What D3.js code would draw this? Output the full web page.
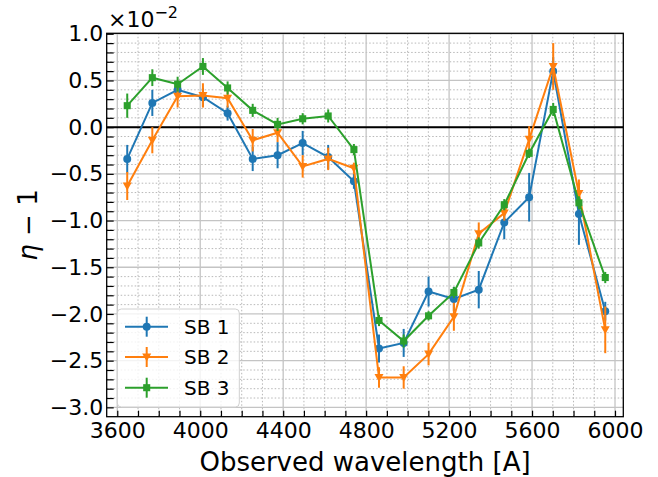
<!DOCTYPE html>
<html>
<head>
<meta charset="utf-8">
<script src="https://cdn.jsdelivr.net/npm/d3@7"></script>
<style>
  html, body { margin: 0; padding: 0; background: #fff; }
  svg { display: block; font-family: "DejaVu Sans", sans-serif; }
</style>
</head>
<body>
<svg id="chart" width="658" height="477"></svg>
<script>
// Binned observed wavelengths (Å)
const wavelengths = [3648, 3769, 3891, 4013, 4132, 4253, 4373, 4494, 4617, 4741,
                     4862, 4981, 5101, 5223, 5343, 5466, 5586, 5702, 5826, 5953];

// eta - 1, in units of 1e-2, with 1-sigma errors
const sb1 = [-0.34, 0.26, 0.40, 0.32, 0.15, -0.34, -0.30, -0.17, -0.32, -0.58,
             -2.37, -2.31, -1.76, -1.84, -1.74, -1.02, -0.75, 0.60, -0.93, -1.97];
const sb1Err = [0.15, 0.14, 0.08, 0.10, 0.08, 0.13, 0.14, 0.13, 0.13, 0.08,
                0.15, 0.15, 0.16, 0.13, 0.20, 0.18, 0.26, 0.15, 0.33, 0.10];

const sb2 = [-0.63, -0.14, 0.33, 0.34, 0.31, -0.14, -0.06, -0.42, -0.34, -0.44,
             -2.68, -2.68, -2.43, -2.03, -1.14, -0.92, -0.13, 0.65, -0.71, -2.17];
const sb2Err = [0.15, 0.14, 0.12, 0.13, 0.10, 0.12, 0.10, 0.12, 0.12, 0.06,
                0.11, 0.12, 0.12, 0.15, 0.12, 0.08, 0.14, 0.25, 0.15, 0.25];

const sb3 = [0.23, 0.53, 0.46, 0.65, 0.42, 0.18, 0.03, 0.09, 0.12, -0.24,
             -2.07, -2.29, -2.02, -1.77, -1.24, -0.83, -0.28, 0.19, -0.81, -1.61];
const sb3Err = [0.13, 0.09, 0.08, 0.09, 0.07, 0.07, 0.07, 0.06, 0.07, 0.06,
                0.06, 0.07, 0.05, 0.06, 0.06, 0.06, 0.05, 0.07, 0.07, 0.06];

const seriesNames = ["SB 1", "SB 2", "SB 3"];
const seriesColors = ["#1f77b4", "#ff7f0e", "#2ca02c"];
const seriesMarkers = ["circle", "triangle", "square"];

const xMajorTicks = [3600, 4000, 4400, 4800, 5200, 5600, 6000];
const yMajorTicks = [-3.0, -2.5, -2.0, -1.5, -1.0, -0.5, 0.0, 0.5, 1.0];

const svg = d3.select("#chart");
const L = 106.7, R = 623.3, T = 33.3, B = 416.7;

const x = d3.scaleLinear().domain([3549, 6040]).range([L, R]);
const y = d3.scaleLinear().domain([-3.1, 1.005]).range([B, T]);

const xMinor = d3.range(3600, 6001, 100).filter(v => !xMajorTicks.includes(v));
const yMinor = d3.range(-30, 11, 1).map(v => v / 10).filter(v => !yMajorTicks.some(t => Math.abs(t - v) < 1e-9));

// grid
const grid = svg.append("g");
grid.selectAll(".xminor").data(xMinor).join("line")
  .attr("x1", d => x(d)).attr("x2", d => x(d)).attr("y1", T).attr("y2", B)
  .attr("stroke", "#b0b0b0").attr("stroke-width", 0.9).attr("stroke-dasharray", "1.5,2");
grid.selectAll(".yminor").data(yMinor).join("line")
  .attr("y1", d => y(d)).attr("y2", d => y(d)).attr("x1", L).attr("x2", R)
  .attr("stroke", "#b0b0b0").attr("stroke-width", 0.9).attr("stroke-dasharray", "1.5,2");
grid.selectAll(".xmajor").data(xMajorTicks).join("line")
  .attr("x1", d => x(d)).attr("x2", d => x(d)).attr("y1", T).attr("y2", B)
  .attr("stroke", "#c4c4c4").attr("stroke-width", 1.3);
grid.selectAll(".ymajor").data(yMajorTicks).join("line")
  .attr("y1", d => y(d)).attr("y2", d => y(d)).attr("x1", L).attr("x2", R)
  .attr("stroke", "#c4c4c4").attr("stroke-width", 1.3);

// zero reference line
svg.append("line")
  .attr("x1", L).attr("x2", R).attr("y1", y(0)).attr("y2", y(0))
  .attr("stroke", "#000").attr("stroke-width", 2);

function markerPath(kind) {
  if (kind === "circle") {
    return d3.symbol(d3.symbolCircle, 50)();
  } else if (kind === "square") {
    return d3.symbol(d3.symbolSquare, 50)();
  }
  // downward triangle
  return "M-4.5,-3.5L4.5,-3.5L0,4.5Z";
}

const series = [
  { vals: sb1, err: sb1Err },
  { vals: sb2, err: sb2Err },
  { vals: sb3, err: sb3Err }
];

const line = d3.line().x(d => x(d[0])).y(d => y(d[1]));

series.forEach((s, i) => {
  const pts = wavelengths.map((w, k) => [w, s.vals[k], s.err[k]]);
  const g = svg.append("g");
  g.append("path").datum(pts).attr("d", line)
    .attr("fill", "none").attr("stroke", seriesColors[i]).attr("stroke-width", 2);
  g.selectAll(".err").data(pts).join("line")
    .attr("x1", d => x(d[0])).attr("x2", d => x(d[0]))
    .attr("y1", d => y(d[1] - d[2])).attr("y2", d => y(d[1] + d[2]))
    .attr("stroke", seriesColors[i]).attr("stroke-width", 2);
  g.selectAll(".mk").data(pts).join("path")
    .attr("d", markerPath(seriesMarkers[i]))
    .attr("transform", d => `translate(${x(d[0])},${y(d[1])})`)
    .attr("fill", seriesColors[i]);
});

// axes with inward ticks
svg.append("g").attr("transform", `translate(0,${B})`)
  .call(d3.axisBottom(x).tickValues(xMajorTicks).tickFormat(d3.format("d"))
        .tickSizeInner(-6).tickSizeOuter(0).tickPadding(6));
svg.append("g").attr("transform", `translate(0,${B})`)
  .call(d3.axisBottom(x).tickValues(xMinor).tickFormat("").tickSizeInner(-6).tickSizeOuter(0));
svg.append("g").attr("transform", `translate(${L},0)`)
  .call(d3.axisLeft(y).tickValues(yMajorTicks).tickFormat(d3.format(".1f"))
        .tickSizeInner(-7).tickSizeOuter(0).tickPadding(3.5));
svg.append("g").attr("transform", `translate(${L},0)`)
  .call(d3.axisLeft(y).tickValues(yMinor).tickFormat("").tickSizeInner(-7).tickSizeOuter(0));

svg.selectAll(".domain").remove();
svg.selectAll(".tick line").attr("stroke", "#000").attr("stroke-width", 1.2);
svg.selectAll(".tick text").attr("font-size", 22).attr("fill", "#000")
  .attr("font-family", "DejaVu Sans, sans-serif");

// frame
svg.append("rect").attr("x", L).attr("y", T).attr("width", R - L).attr("height", B - T)
  .attr("fill", "none").attr("stroke", "#000").attr("stroke-width", 1.3);

// legend
const lg = svg.append("g");
lg.append("rect").attr("x", 117.3).attr("y", 309).attr("width", 122).attr("height", 98)
  .attr("rx", 4).attr("fill", "#fff").attr("fill-opacity", 0.8)
  .attr("stroke", "#d0d0d0").attr("stroke-width", 1);
const legendY = [326.7, 357, 387.7];
seriesNames.forEach((name, i) => {
  const yy = legendY[i];
  lg.append("line").attr("x1", 125).attr("x2", 168).attr("y1", yy).attr("y2", yy)
    .attr("stroke", seriesColors[i]).attr("stroke-width", 2);
  lg.append("line").attr("x1", 146.7).attr("x2", 146.7).attr("y1", yy - 10).attr("y2", yy + 10)
    .attr("stroke", seriesColors[i]).attr("stroke-width", 2);
  lg.append("path").attr("d", markerPath(seriesMarkers[i]))
    .attr("transform", `translate(146.7,${yy})`).attr("fill", seriesColors[i]);
  lg.append("text").attr("x", 184).attr("y", yy + 7.3)
    .attr("font-size", 20).attr("fill", "#000").text(name);
});

// scale factor label above the y axis
const off = svg.append("text").attr("x", 108).attr("y", 27).attr("font-size", 22).attr("fill", "#000");
off.append("tspan").text("×10");
off.append("tspan").attr("font-size", 16).attr("dy", -9).text("−2");

// axis labels
svg.append("text").attr("x", (L + R) / 2).attr("y", 471).attr("text-anchor", "middle")
  .attr("font-size", 26).attr("fill", "#000").text("Observed wavelength [A]");
const yl = svg.append("text").attr("transform", `translate(37,${(T + B) / 2}) rotate(-90)`)
  .attr("text-anchor", "middle").attr("font-size", 26).attr("fill", "#000");
yl.append("tspan").attr("font-style", "italic").text("η");
yl.append("tspan").text(" − 1");
</script>
</body>
</html>
